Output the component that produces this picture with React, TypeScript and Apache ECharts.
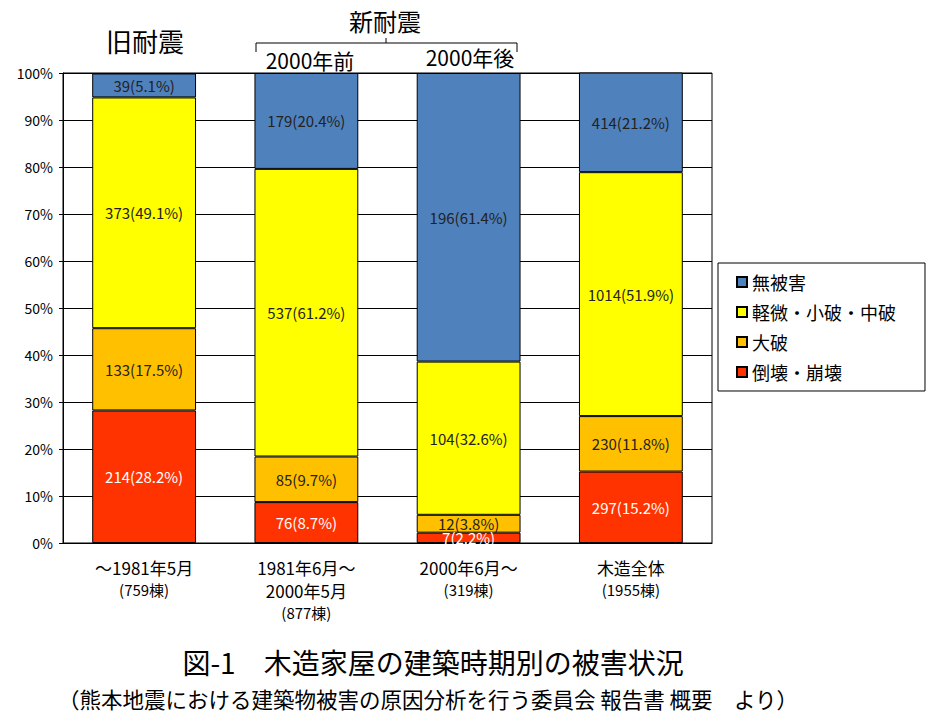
import React, { useEffect, useRef } from "react";
import * as echarts from "echarts";

const periodLabels = ["～1981年5月", "1981年6月～\n2000年5月", "2000年6月～", "木造全体"];
const buildingCounts = [759, 877, 319, 1955];

const seriesNames = ["倒壊・崩壊", "大破", "軽微・小破・中破", "無被害"];
const collapseCounts = [214, 76, 7, 297];
const collapsePct = [28.2, 8.7, 2.2, 15.2];
const severeCounts = [133, 85, 12, 230];
const severePct = [17.5, 9.7, 3.8, 11.8];
const minorCounts = [373, 537, 104, 1014];
const minorPct = [49.1, 61.2, 32.6, 51.9];
const noneCounts = [39, 179, 196, 414];
const nonePct = [5.1, 20.4, 61.4, 21.2];

const yTicks = [0, 10, 20, 30, 40, 50, 60, 70, 80, 90, 100];

const FONT = '"Noto Sans CJK JP", sans-serif';

export default function App() {
  const ref = useRef<HTMLDivElement>(null);

  useEffect(() => {
    if (!ref.current) return;
    const chart = echarts.init(ref.current, undefined, { renderer: "svg" });

    const mk = (
      name: string,
      pct: number[],
      counts: number[],
      color: string,
      labelColor: string
    ) => ({
      name,
      type: "bar",
      stack: "total",
      barWidth: "64%",
      data: pct,
      itemStyle: { color, borderColor: "#000", borderWidth: 1 },
      label: {
        show: true,
        position: "inside",
        color: labelColor,
        fontFamily: FONT,
        fontSize: 15,
        formatter: (p: any) => `${counts[p.dataIndex]}(${pct[p.dataIndex]}%)`,
      },
    });

    chart.setOption({
      animation: false,
      backgroundColor: "#fff",
      textStyle: { fontFamily: FONT },
      grid: {
        left: 63,
        right: 224,
        top: 73,
        bottom: 179,
        show: true,
        borderColor: "#000",
        borderWidth: 1,
        backgroundColor: "#fff",
      },
      legend: {
        orient: "vertical",
        left: 718,
        top: 263,
        data: ["無被害", "軽微・小破・中破", "大破", "倒壊・崩壊"],
        icon: "rect",
        itemWidth: 10,
        itemHeight: 10,
        itemGap: 12,
        itemTextGap: 5,
        padding: [10, 29, 10, 18],
        borderColor: "#000",
        borderWidth: 1,
        textStyle: { fontSize: 18, color: "#000", fontFamily: FONT },
      },
      xAxis: {
        type: "category",
        data: periodLabels,
        axisLine: { lineStyle: { color: "#000" } },
        axisTick: { show: false },
        axisLabel: {
          interval: 0,
          margin: 13,
          color: "#000",
          formatter: (v: string, i: number) =>
            v
              .split("\n")
              .map((l) => `{a|${l}}`)
              .join("\n") + `\n{b|(${buildingCounts[i]}棟)}`,
          rich: {
            a: { fontSize: 17, lineHeight: 23, fontFamily: FONT, color: "#000" },
            b: { fontSize: 15, lineHeight: 21, fontFamily: FONT, color: "#000" },
          },
        },
      },
      yAxis: {
        type: "value",
        min: yTicks[0],
        max: yTicks[yTicks.length - 1],
        interval: 10,
        axisLine: { show: true, lineStyle: { color: "#000" } },
        axisTick: { show: true, length: 4, lineStyle: { color: "#000" } },
        splitLine: { lineStyle: { color: "#000", width: 1 } },
        axisLabel: {
          color: "#000",
          fontSize: 14,
          margin: 10,
          fontFamily: FONT,
          formatter: "{value}%",
        },
      },
      graphic: [
        {
          type: "text",
          x: 145,
          y: 40,
          style: {
            text: "旧耐震",
            fontSize: 26,
            fill: "#000",
            fontFamily: FONT,
            align: "center",
            verticalAlign: "middle",
          },
        },
        {
          type: "text",
          x: 385,
          y: 20,
          style: {
            text: "新耐震",
            fontSize: 24,
            fill: "#000",
            fontFamily: FONT,
            align: "center",
            verticalAlign: "middle",
          },
        },
        {
          type: "polyline",
          shape: {
            points: [
              [256, 52],
              [256, 43],
              [517, 43],
              [517, 52],
            ],
          },
          style: { stroke: "#000", lineWidth: 1, fill: "none" },
        },
        {
          type: "line",
          shape: { x1: 386, y1: 38, x2: 386, y2: 43 },
          style: { stroke: "#000", lineWidth: 1 },
        },
        {
          type: "text",
          x: 310,
          y: 60,
          style: {
            text: "2000年前",
            fontSize: 21,
            fill: "#000",
            fontFamily: FONT,
            align: "center",
            verticalAlign: "middle",
          },
        },
        {
          type: "text",
          x: 470,
          y: 57,
          style: {
            text: "2000年後",
            fontSize: 21,
            fill: "#000",
            fontFamily: FONT,
            align: "center",
            verticalAlign: "middle",
          },
        },
        {
          type: "text",
          x: 433,
          y: 662,
          style: {
            text: "図-1　木造家屋の建築時期別の被害状況",
            fontSize: 28,
            fill: "#000",
            fontFamily: FONT,
            align: "center",
            verticalAlign: "middle",
          },
        },
        {
          type: "text",
          x: 428,
          y: 698,
          style: {
            text: "（熊本地震における建築物被害の原因分析を行う委員会 報告書 概要　より）",
            fontSize: 21.5,
            fill: "#000",
            fontFamily: FONT,
            align: "center",
            verticalAlign: "middle",
          },
        },
      ],
      series: [
        mk(seriesNames[0], collapsePct, collapseCounts, "#FF3300", "#fff"),
        mk(seriesNames[1], severePct, severeCounts, "#FFC000", "#222"),
        mk(seriesNames[2], minorPct, minorCounts, "#FFFF00", "#222"),
        mk(seriesNames[3], nonePct, noneCounts, "#4F81BD", "#222"),
      ],
    });

    return () => chart.dispose();
  }, []);

  return (
    <div
      ref={ref}
      style={{ position: "absolute", left: 0, top: 0, width: 936, height: 722 }}
    />
  );
}
